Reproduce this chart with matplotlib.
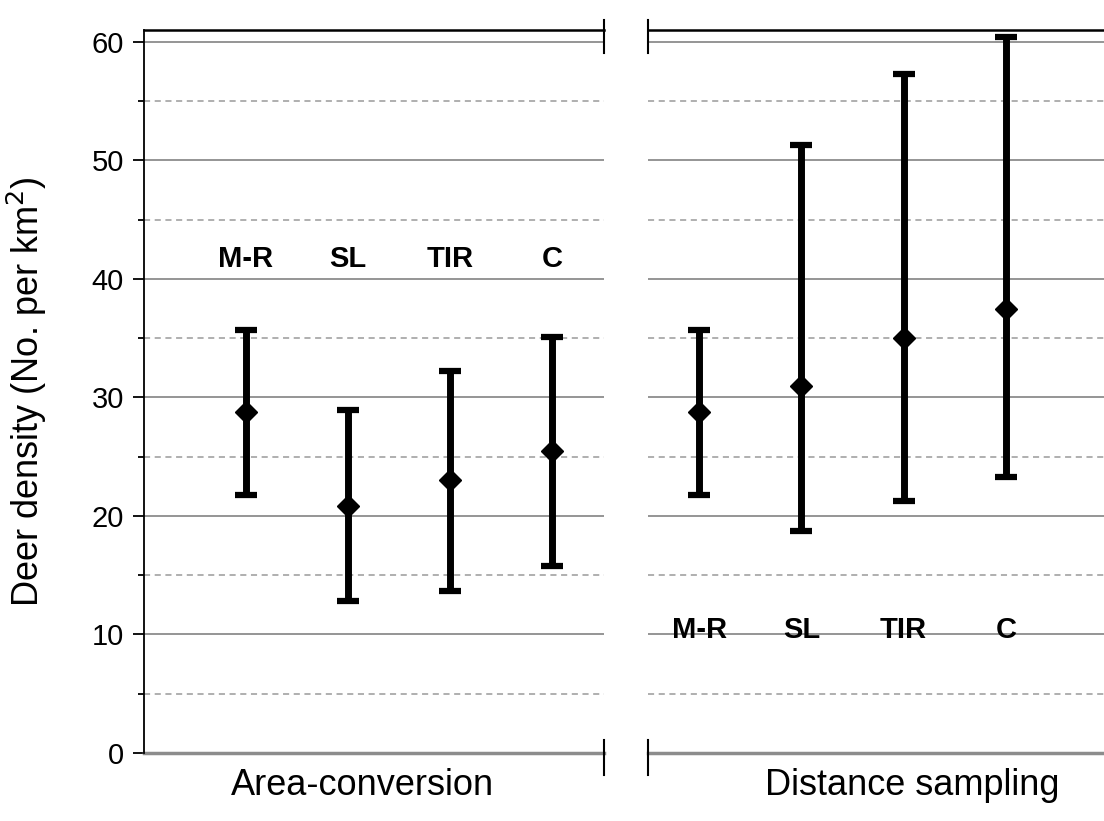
import matplotlib
matplotlib.use("Agg")
import matplotlib.pyplot as plt
from matplotlib.ticker import MultipleLocator

plt.rcParams['font.family'] = ['Liberation Sans', 'DejaVu Sans']

methods = ['M-R', 'SL', 'TIR', 'C']

area_mean = [28.8, 20.8, 23.0, 25.5]
area_low = [21.8, 12.8, 13.7, 15.8]
area_high = [35.7, 28.9, 32.2, 35.1]

dist_mean = [28.8, 31.0, 35.0, 37.5]
dist_low = [21.8, 18.7, 21.3, 23.3]
dist_high = [35.7, 51.3, 57.3, 60.4]

panel_titles = ['Area-conversion', 'Distance sampling']
area_label_y = 41.7
dist_label_y = 10.4

W, H = 1104, 821
fig = plt.figure(figsize=(W / 100, H / 100), dpi=100)
ax1 = fig.add_axes([143.5 / W, 1 - 753 / H, 460 / W, 723 / H])
ax2 = fig.add_axes([648 / W, 1 - 753 / H, 460 / W, 723 / H])

ymax = 61.0
for ax, mean, low, high, xlim, ly, title, tx in [
        (ax1, area_mean, area_low, area_high, (0, 4.5), area_label_y, panel_titles[0], 0.476),
        (ax2, dist_mean, dist_low, dist_high, (0.5, 5.0), dist_label_y, panel_titles[1], 0.574)]:
    x = list(range(1, len(methods) + 1))
    yerr = [[m - l for m, l in zip(mean, low)], [h - m for m, h in zip(mean, high)]]
    ax.errorbar(x, mean, yerr=yerr, fmt='D', color='black', ms=11,
                elinewidth=5, capsize=8, capthick=4.5, zorder=5)
    for xi, name in zip(x, methods):
        ax.text(xi, ly, name, ha='center', va='center', fontsize=21,
                fontweight='bold')
    ax.set_xlim(*xlim)
    ax.set_ylim(0, ymax)
    ax.yaxis.set_major_locator(MultipleLocator(10))
    ax.yaxis.set_minor_locator(MultipleLocator(5))
    ax.grid(True, which='major', axis='y', color='#8c8c8c', lw=1.3)
    ax.grid(True, which='minor', axis='y', color='#9a9a9a', lw=1.1, ls=(0, (4, 3)))
    ax.axhline(0, color='#8c8c8c', lw=2.5, zorder=2, clip_on=False)
    ax.set_axisbelow(True)
    ax.set_xticks([])
    for s in ['bottom', 'right', 'left']:
        ax.spines[s].set_visible(False)
    ax.spines['top'].set_linewidth(1.8)
    ax.text(tx, -0.045, title, transform=ax.transAxes, ha='center', va='center',
            fontsize=26)

ax1.spines['left'].set_visible(True)
ax1.spines['left'].set_linewidth(1.3)
ax1.tick_params(axis='y', which='major', length=8, width=1.3, labelsize=21, pad=6)
ax1.tick_params(axis='y', which='minor', length=4.5, width=1.3)
ax1.set_ylabel('Deer density (No. per km$^2$)', fontsize=26)
ax1.yaxis.set_label_coords(-0.205, 0.5)
ax2.tick_params(axis='y', which='both', left=False, labelleft=False)

# break marks
for ax, xb in [(ax1, 1.0), (ax2, 0.0)]:
    ax.plot([xb, xb], [ymax + 0.85, ymax - 1.9], color='black', lw=1.5,
            transform=ax.get_yaxis_transform(), clip_on=False)
    ax.plot([xb, xb], [1.1, -1.85], color='black', lw=1.5,
            transform=ax.get_yaxis_transform(), clip_on=False)

fig.savefig('out.png', dpi=100)
